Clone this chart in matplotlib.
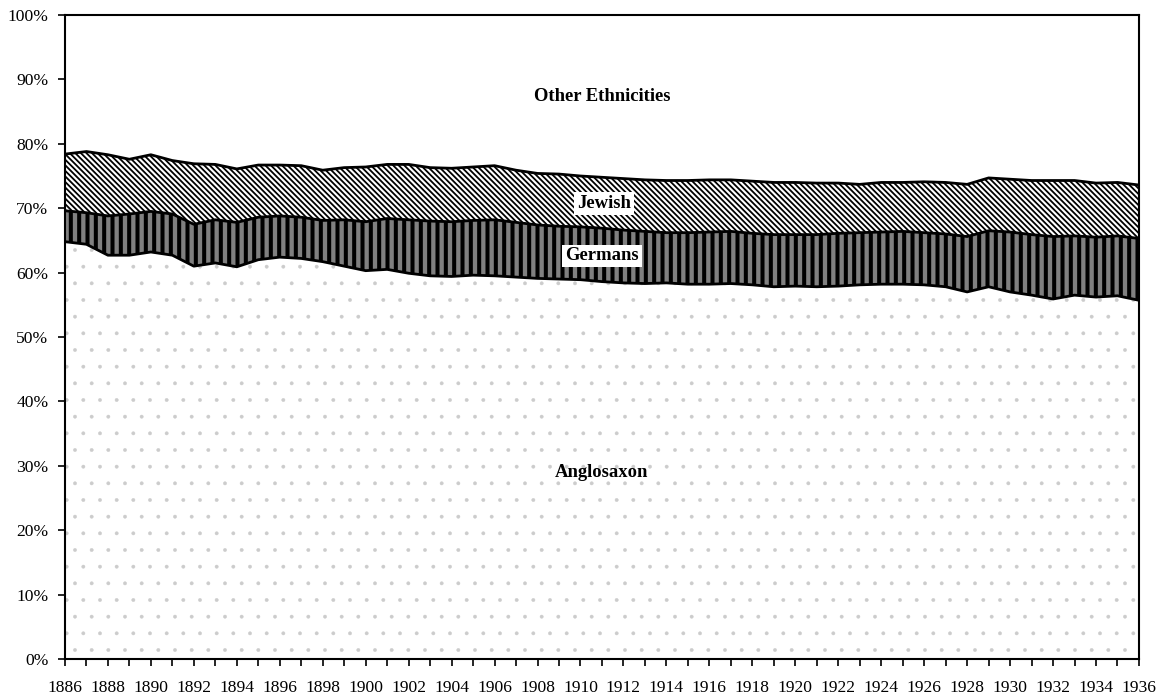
import numpy as np
import matplotlib
matplotlib.use("Agg")
import matplotlib.pyplot as plt
from matplotlib.ticker import MultipleLocator, FuncFormatter

plt.rcParams['font.family'] = ['Liberation Serif', 'DejaVu Serif']

years = np.arange(1886, 1937)

# share of each group, percent
anglosaxon = [64.8, 64.4, 62.7, 62.7, 63.2, 62.7, 61.0, 61.5, 60.9, 62.0,
              62.4, 62.2, 61.7, 61.0, 60.3, 60.5, 59.9, 59.5, 59.4, 59.6,
              59.5, 59.3, 59.1, 59.0, 58.9, 58.6, 58.4, 58.3, 58.4, 58.2,
              58.2, 58.3, 58.1, 57.8, 57.9, 57.8, 57.9, 58.1, 58.2, 58.2,
              58.1, 57.8, 57.0, 57.8, 57.0, 56.5, 55.9, 56.5, 56.2, 56.4,
              55.7]
germans = [4.8, 4.9, 6.1, 6.4, 6.3, 6.4, 6.5, 6.7, 6.9, 6.6,
           6.4, 6.4, 6.4, 7.2, 7.6, 7.9, 8.3, 8.5, 8.5, 8.5,
           8.7, 8.5, 8.3, 8.2, 8.2, 8.3, 8.2, 8.1, 7.8, 8.0,
           8.1, 8.1, 8.0, 8.1, 8.0, 8.1, 8.2, 8.1, 8.1, 8.2,
           8.1, 8.2, 8.6, 8.7, 9.3, 9.4, 9.7, 9.2, 9.3, 9.3,
           9.6]
jewish = [8.8, 9.5, 9.5, 8.5, 8.8, 8.3, 9.4, 8.6, 8.3, 8.1,
          7.9, 8.0, 7.8, 8.1, 8.5, 8.4, 8.6, 8.3, 8.3, 8.3,
          8.4, 8.1, 8.0, 8.1, 7.9, 7.9, 8.0, 8.0, 8.1, 8.1,
          8.1, 8.0, 8.1, 8.1, 8.1, 8.0, 7.8, 7.5, 7.7, 7.6,
          7.9, 8.0, 8.1, 8.2, 8.2, 8.4, 8.7, 8.6, 8.4, 8.3,
          8.3]

b1 = np.array(anglosaxon)
b2 = b1 + np.array(germans)
b3 = b2 + np.array(jewish)
top = np.full_like(b1, 100.0)

fig = plt.figure(figsize=(11.64, 6.98), dpi=100)
ax = fig.add_axes([0.0558, 0.0559, 0.9227, 0.9226])


def hatched(lower, upper, face, hatch_col, hatch, hlw):
    with plt.rc_context({'hatch.linewidth': hlw}):
        coll = ax.fill_between(years, lower, upper, facecolor=face,
                               edgecolor=hatch_col, hatch=hatch, linewidth=0)
    if hasattr(coll, 'set_hatch_linewidth'):
        coll.set_hatch_linewidth(hlw)
    return coll


# Anglosaxon: sparse light grey dots
hatched(0, b1, 'white', '#cccccc', '.', 0.3)
# Germans: black / grey vertical stripes
hatched(b1, b2, '#808080', 'black', '||', 2.9)
# Jewish: fine diagonal stripes
hatched(b2, b3, 'white', 'black', '\\' * 6, 1.3)
# Other ethnicities: plain white
ax.fill_between(years, b3, top, facecolor='white', linewidth=0)

for b in (b1, b2, b3):
    ax.plot(years, b, color='black', linewidth=2)

lab = dict(fontsize=13.4, fontweight='bold', ha='center', va='center')
box = dict(facecolor='white', edgecolor='none', pad=2)
ax.text(1911.0, 87.3, 'Other Ethnicities', **lab)
ax.text(1911.1, 70.7, 'Jewish', bbox=box, **lab)
ax.text(1911.0, 62.6, 'Germans', bbox=box, **lab)
ax.text(1911.0, 28.9, 'Anglosaxon', **lab)

ax.set_xlim(1886, 1936)
ax.set_ylim(0, 100)
ax.xaxis.set_major_locator(MultipleLocator(2))
ax.xaxis.set_minor_locator(MultipleLocator(1))
ax.yaxis.set_major_locator(MultipleLocator(10))
ax.yaxis.set_major_formatter(FuncFormatter(lambda v, p: f"{v:.0f}%"))

ax.tick_params(axis='both', which='both', direction='out', color='black',
               labelsize=12.6, width=1.2)
ax.tick_params(axis='x', which='major', length=5, pad=10)
ax.tick_params(axis='x', which='minor', length=5)
ax.tick_params(axis='y', length=5, pad=7)

for spine in ax.spines.values():
    spine.set_color('black')
    spine.set_linewidth(1.5)

fig.savefig('out.png', dpi=100, facecolor='white')
